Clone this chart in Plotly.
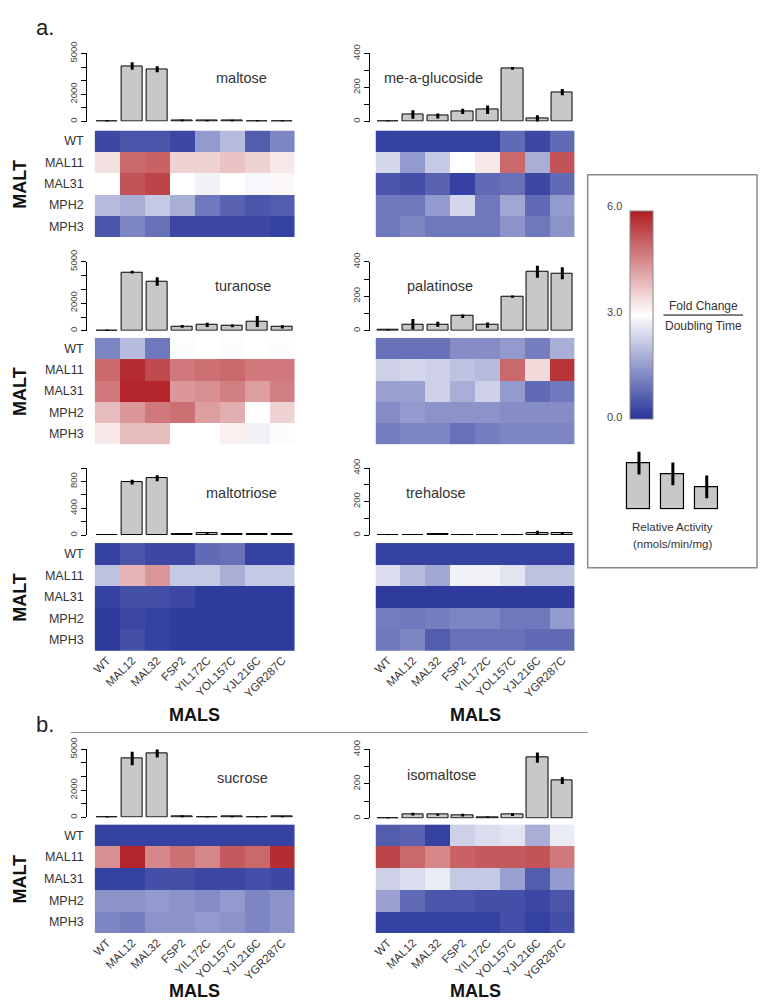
import plotly.graph_objects as go

W, H = 767, 1008

# MALS genes (columns) and MALT genes (rows)
mals = ["WT", "MAL12", "MAL32", "FSP2", "YIL172C", "YOL157C", "YJL216C", "YGR287C"]
malt = ["WT", "MAL11", "MAL31", "MPH2", "MPH3"]

# relative activity (nmols/min/mg) and error
maltose_act = [30, 4080, 3840, 80, 50, 70, 40, 40]
maltose_err = [70, 280, 220, 80, 60, 70, 60, 60]
meglu_act = [3, 41, 33, 60, 70, 313, 17, 173]
meglu_err = [4, 25, 15, 15, 25, 8, 20, 18]
turanose_act = [40, 4240, 3570, 330, 430, 360, 670, 290]
turanose_err = [60, 100, 300, 100, 150, 100, 400, 120]
palatinose_act = [4, 38, 38, 85, 33, 198, 342, 333]
palatinose_err = [4, 30, 15, 10, 15, 7, 35, 35]
maltotriose_act = [5, 790, 849, 20, 25, 18, 20, 18]
maltotriose_err = [8, 35, 45, 12, 10, 10, 12, 10]
trehalose_act = [3, 3, 4, 3, 2, 3, 14, 10]
trehalose_err = [3, 3, 3, 3, 2, 3, 12, 8]
sucrose_act = [20, 4330, 4710, 80, 30, 50, 30, 50]
sucrose_err = [60, 500, 300, 80, 50, 60, 50, 60]
isomaltose_act = [2, 25, 22, 20, 8, 22, 352, 219]
isomaltose_err = [3, 8, 6, 8, 4, 8, 30, 20]

# fold change / doubling time (rows = malt, cols = mals)
maltose_heat = [
    [0.3, 0.5, 0.5, 0.3, 1.5, 2.0, 0.6, 1.2],
    [3.4, 5.0, 5.1, 3.6, 3.6, 3.8, 3.6, 3.3],
    [3.0, 5.3, 5.5, 3.0, 2.8, 3.0, 2.9, 3.1],
    [2.0, 1.8, 2.2, 1.8, 1.0, 0.7, 0.5, 0.6],
    [0.5, 1.2, 0.9, 0.3, 0.3, 0.3, 0.3, 0.2],
]
meglu_heat = [
    [0.2, 0.2, 0.2, 0.2, 0.2, 0.8, 0.3, 0.8],
    [2.4, 1.5, 2.2, 3.0, 3.3, 5.0, 1.8, 5.3],
    [0.5, 0.4, 0.7, 0.2, 0.8, 0.9, 0.3, 0.8],
    [1.0, 1.0, 1.5, 2.4, 1.0, 1.7, 0.8, 1.5],
    [1.0, 1.2, 1.0, 1.0, 1.0, 1.4, 1.0, 1.4],
]
turanose_heat = [
    [1.2, 2.0, 1.0, 2.95, 3.0, 2.95, 3.0, 2.95],
    [5.0, 5.8, 5.4, 4.8, 4.9, 5.0, 4.8, 4.8],
    [4.8, 5.9, 5.9, 4.4, 4.5, 4.7, 4.3, 4.7],
    [3.9, 4.4, 4.8, 4.9, 4.3, 4.1, 3.0, 3.6],
    [3.3, 3.9, 3.9, 3.0, 3.0, 3.2, 2.8, 3.05],
]
palatinose_heat = [
    [0.9, 0.9, 0.9, 1.3, 1.3, 1.5, 1.1, 1.8],
    [2.3, 2.4, 2.3, 2.1, 2.0, 5.0, 3.5, 5.7],
    [1.6, 1.6, 2.3, 1.8, 2.3, 1.5, 0.8, 1.0],
    [1.3, 1.5, 1.4, 1.4, 1.4, 1.3, 1.3, 1.3],
    [1.1, 1.2, 1.2, 0.9, 1.1, 1.2, 1.2, 1.2],
]
maltotriose_heat = [
    [0.2, 0.5, 0.3, 0.3, 0.8, 0.9, 0.2, 0.2],
    [2.1, 4.0, 4.4, 2.2, 2.2, 1.8, 2.2, 2.2],
    [0.2, 0.4, 0.4, 0.3, 0.1, 0.1, 0.1, 0.1],
    [0.1, 0.3, 0.2, 0.1, 0.1, 0.1, 0.1, 0.1],
    [0.1, 0.4, 0.2, 0.1, 0.1, 0.1, 0.1, 0.1],
]
trehalose_heat = [
    [0.2, 0.2, 0.2, 0.2, 0.2, 0.2, 0.2, 0.2],
    [2.5, 2.0, 1.7, 2.8, 2.8, 2.6, 2.1, 2.1],
    [0.1, 0.1, 0.1, 0.1, 0.1, 0.1, 0.1, 0.1],
    [1.1, 1.0, 1.1, 1.2, 1.2, 1.0, 1.0, 1.5],
    [1.0, 1.2, 0.6, 0.9, 0.9, 0.9, 0.8, 0.8],
]
sucrose_heat = [
    [0.2, 0.2, 0.2, 0.2, 0.2, 0.2, 0.2, 0.2],
    [4.5, 5.9, 4.6, 4.9, 4.6, 5.2, 5.0, 5.8],
    [0.2, 0.2, 0.4, 0.4, 0.3, 0.3, 0.4, 0.3],
    [1.4, 1.4, 1.5, 1.4, 1.3, 1.5, 1.2, 1.4],
    [1.2, 1.1, 1.4, 1.4, 1.5, 1.4, 1.2, 1.4],
]
isomaltose_heat = [
    [0.6, 0.7, 0.2, 2.3, 2.5, 2.6, 1.8, 2.7],
    [5.5, 5.0, 4.6, 5.1, 5.2, 5.2, 5.3, 4.8],
    [2.3, 2.5, 2.7, 2.2, 2.2, 1.6, 0.6, 1.5],
    [1.6, 0.8, 0.5, 0.5, 0.4, 0.4, 0.3, 0.5],
    [0.2, 0.2, 0.2, 0.2, 0.2, 0.4, 0.2, 0.4],
]

# legend key bars
legend_bar_vals = [47, 36, 23]
legend_bar_err = [11.5, 11.5, 11.5]

ticks5000 = ([0, 1000, 2000, 3000, 4000, 5000], ["0", "", "2000", "", "", "5000"])
ticks400 = ([0, 100, 200, 300, 400], ["0", "", "200", "", "400"])
ticks1000 = ([0, 200, 400, 600, 800, 1000], ["0", "", "400", "", "800", ""])

panels = [
    dict(name="maltose", act=maltose_act, err=maltose_err, heat=maltose_heat, left=True,
         y0=111, ytop=42, ymax=5000, ticks=ticks5000, h=(120, 228), lab=(239, 67), xlab=False),
    dict(name="me-a-glucoside", act=meglu_act, err=meglu_err, heat=meglu_heat, left=False,
         y0=111, ytop=42, ymax=400, ticks=ticks400, h=(120, 228), lab=(432, 67), xlab=False),
    dict(name="turanose", act=turanose_act, err=turanose_err, heat=turanose_heat, left=True,
         y0=323, ytop=253, ymax=5000, ticks=ticks5000, h=(330, 438), lab=(241, 278), xlab=False),
    dict(name="palatinose", act=palatinose_act, err=palatinose_err, heat=palatinose_heat, left=False,
         y0=323, ytop=253, ymax=400, ticks=ticks400, h=(330, 438), lab=(439, 278), xlab=False),
    dict(name="maltotriose", act=maltotriose_act, err=maltotriose_err, heat=maltotriose_heat, left=True,
         y0=530, ytop=462, ymax=1000, ticks=ticks1000, h=(538, 647), lab=(239, 487), xlab=True),
    dict(name="trehalose", act=trehalose_act, err=trehalose_err, heat=trehalose_heat, left=False,
         y0=530, ytop=462, ymax=400, ticks=ticks400, h=(538, 647), lab=(435, 487), xlab=True),
    dict(name="sucrose", act=sucrose_act, err=sucrose_err, heat=sucrose_heat, left=True,
         y0=816, ytop=747, ymax=5000, ticks=ticks5000, h=(823, 933), lab=(240, 776), xlab=True),
    dict(name="isomaltose", act=isomaltose_act, err=isomaltose_err, heat=isomaltose_heat, left=False,
         y0=817, ytop=747, ymax=400, ticks=ticks400, h=(823, 933), lab=(440, 773), xlab=True),
]

cscale = [[0, "#27349A"], [0.5, "#FFFFFF"], [1, "#B01E23"]]
FONT = "Liberation Sans, Arial, sans-serif"


def fx(px):
    return px / W


def fy(py):
    return 1 - py / H


def sfx(n):
    return "" if n == 1 else str(n)


fig = go.Figure()
axes = {}
notes = []

for i, p in enumerate(panels):
    nb, nh = 2 * i + 1, 2 * i + 2
    left, right = (92, 293) if p["left"] else (374, 574)
    axis_x = 83 if p["left"] else 367

    fig.add_trace(go.Bar(
        x=list(range(8)), y=p["act"], width=0.86,
        error_y=dict(type="data", array=p["err"], visible=True, color="black", thickness=3, width=0),
        marker=dict(color="#C8C8C8", line=dict(color="black", width=1)),
        xaxis="x" + sfx(nb), yaxis="y" + sfx(nb), showlegend=False, hoverinfo="skip"))
    axes["xaxis" + sfx(nb)] = dict(domain=[fx(left), fx(right)], range=[-0.5, 7.5],
                                   visible=False, anchor="y" + sfx(nb))
    axes["yaxis" + sfx(nb)] = dict(domain=[fy(p["y0"]), fy(p["ytop"])], range=[0, p["ymax"]],
                                   anchor="free", position=fx(axis_x), showline=True,
                                   linecolor="black", linewidth=1, ticks="outside", ticklen=5,
                                   tickcolor="black", tickvals=p["ticks"][0], ticktext=p["ticks"][1],
                                   tickangle=-90, tickfont=dict(size=9.5, color="#444"),
                                   showgrid=False, zeroline=False)

    hm = dict(z=p["heat"], x=list(range(8)), y=list(range(5)), zmin=0, zmax=6,
              colorscale=cscale, xaxis="x" + sfx(nh), yaxis="y" + sfx(nh), hoverinfo="skip",
              showscale=(i == 0))
    if i == 0:
        hm["colorbar"] = dict(x=fx(629), xanchor="left", xpad=0, thickness=23,
                              len=(412 - 201) / H, lenmode="fraction",
                              y=fy((201 + 412) / 2), yanchor="middle", ypad=0,
                              outlinewidth=1, outlinecolor="#888",
                              showticklabels=False, ticks="")
    fig.add_trace(go.Heatmap(**hm))
    axes["xaxis" + sfx(nh)] = dict(domain=[fx(left), fx(right)], range=[-0.5, 7.5],
                                   anchor="y" + sfx(nh), tickvals=list(range(8)), ticktext=mals,
                                   showticklabels=p["xlab"], tickangle=-45, ticks="",
                                   showgrid=False, zeroline=False, showline=False,
                                   tickfont=dict(size=11.5, color="#333"))
    axes["yaxis" + sfx(nh)] = dict(domain=[fy(p["h"][1]), fy(p["h"][0])], range=[4.5, -0.5],
                                   anchor="x" + sfx(nh), tickvals=list(range(5)), ticktext=malt,
                                   showticklabels=p["left"], ticks="", ticklabelstandoff=10,
                                   showgrid=False, zeroline=False, showline=False,
                                   tickfont=dict(size=12.5, color="#333"))

    notes.append(dict(text=p["name"], x=fx(p["lab"][0]), y=fy(p["lab"][1]),
                      font=dict(size=14.5, color="#333")))
    if p["left"]:
        notes.append(dict(text="<b>MALT</b>", x=fx(17), y=fy(sum(p["h"]) / 2), textangle=-90,
                          font=dict(size=18, color="#111")))

# legend key bars
fig.add_trace(go.Bar(
    x=[0, 1, 2], y=legend_bar_vals, width=0.68,
    error_y=dict(type="data", array=legend_bar_err, visible=True, color="black", thickness=3, width=0),
    marker=dict(color="#C8C8C8", line=dict(color="black", width=1.2)),
    xaxis="x17", yaxis="y17", showlegend=False, hoverinfo="skip"))
axes["xaxis17"] = dict(domain=[fx(621.5), fx(723.5)], range=[-0.5, 2.5], visible=False, anchor="y17")
axes["yaxis17"] = dict(domain=[fy(504), fy(444)], range=[0, 60], visible=False, anchor="x17")

for txt, x, y in [("MALS", 192, 712), ("MALS", 474, 712), ("MALS", 192, 992), ("MALS", 474, 992)]:
    notes.append(dict(text="<b>" + txt + "</b>", x=fx(x), y=fy(y), font=dict(size=18, color="#111")))

notes += [
    dict(text="a.", x=fx(42), y=fy(16), font=dict(size=22, color="#222")),
    dict(text="b.", x=fx(42), y=fy(722), font=dict(size=22, color="#222")),
    dict(text="6.0", x=fx(614), y=fy(197), font=dict(size=11, color="#444")),
    dict(text="3.0", x=fx(614), y=fy(304), font=dict(size=11, color="#444")),
    dict(text="0.0", x=fx(614), y=fy(410), font=dict(size=11, color="#444")),
    dict(text="Fold Change", x=fx(703), y=fy(298), font=dict(size=12, color="#333")),
    dict(text="Doubling Time", x=fx(703), y=fy(318), font=dict(size=12, color="#333")),
    dict(text="Relative Activity", x=fx(672), y=fy(522), font=dict(size=11.5, color="#333")),
    dict(text="(nmols/min/mg)", x=fx(672), y=fy(539), font=dict(size=11.5, color="#333")),
]
for n in notes:
    n.update(xref="paper", yref="paper", showarrow=False, xanchor="center", yanchor="middle")

shapes = [
    dict(type="rect", xref="paper", yref="paper", x0=fx(587), x1=fx(757), y0=fy(563), y1=fy(165),
         line=dict(color="#8a8a8a", width=1.5)),
    dict(type="line", xref="paper", yref="paper", x0=fx(663), x1=fx(743), y0=fy(307), y1=fy(307),
         line=dict(color="black", width=1)),
    dict(type="line", xref="paper", yref="paper", x0=fx(68), x1=fx(587), y0=fy(730), y1=fy(730),
         line=dict(color="#888", width=1)),
]

fig.update_layout(width=W, height=H, margin=dict(l=0, r=0, t=0, b=0),
                  paper_bgcolor="white", plot_bgcolor="white",
                  font=dict(family=FONT), annotations=notes, shapes=shapes,
                  bargap=0, **axes)

# page body has a default 8px margin; drop it so the figure sits at the window origin
fig.write_html("out.html", config={"displayModeBar": False},
               post_script="document.body.style.margin='0';")
